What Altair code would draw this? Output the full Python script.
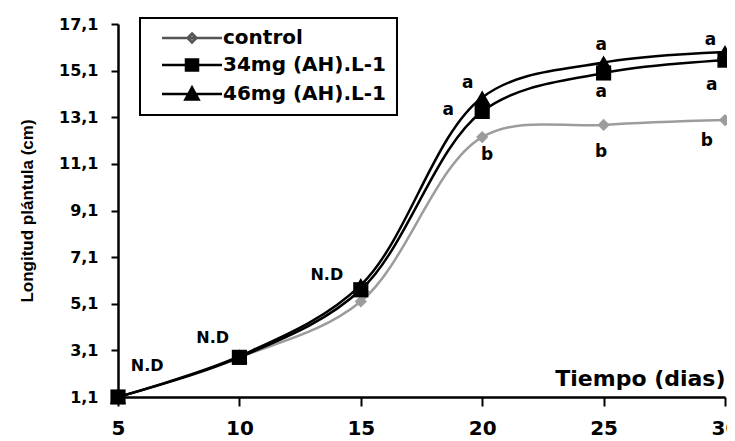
import altair as alt
import pandas as pd

# ---- data ----
days = [5, 10, 15, 20, 25, 30]
control = [1.1, 2.8, 5.2, 12.25, 12.77, 12.98]
mg34 = [1.1, 2.8, 5.7, 13.35, 15.0, 15.55]
mg46 = [1.1, 2.85, 5.9, 13.95, 15.45, 15.9]
series_names = ["control", "34mg (AH).L-1", "46mg (AH).L-1"]

y_ticks = [1.1, 3.1, 5.1, 7.1, 9.1, 11.1, 13.1, 15.1, 17.1]
x_ticks = [5, 10, 15, 20, 25, 30]

nd_x = [6.2, 8.9, 13.6]
nd_y = [2.45, 3.65, 6.35]
nd_text = ["N.D", "N.D", "N.D"]

let_x = [19.4, 18.6, 20.2, 24.9, 24.9, 24.9, 29.4, 29.45, 29.25]
let_y = [14.55, 13.4, 11.5, 16.2, 14.2, 11.6, 16.4, 14.5, 12.1]
let_text = ["a", "a", "b", "a", "a", "b", "a", "a", "b"]

rows = []
for name, vals in zip(series_names, [control, mg34, mg46]):
    for d, v in zip(days, vals):
        rows.append({"dia": d, "longitud": v, "serie": name})
df = pd.DataFrame(rows)
nd_df = pd.DataFrame({"dia": nd_x, "longitud": nd_y, "txt": nd_text})
let_df = pd.DataFrame({"dia": let_x, "longitud": let_y, "txt": let_text})

FONT = "DejaVu Sans"
GREY = "#9c9c9c"
BLACK = "#000000"

x_enc = alt.X(
    "dia:Q",
    scale=alt.Scale(domain=[5, 30], nice=False, zero=False),
    axis=alt.Axis(
        values=x_ticks, format="d", grid=False, labelFlush=False, labelOverlap=False,
        title="Tiempo (dias)", titleX=607, titleY=-12, titleAlign="right",
        titleBaseline="alphabetic", titleFont=FONT, titleFontSize=22,
        titleFontWeight="bold", titleColor=BLACK,
        labelFont=FONT, labelFontSize=20, labelFontWeight="bold", labelColor=BLACK,
        labelPadding=12, tickSize=9, tickWidth=2, tickColor=BLACK,
        domainWidth=2.5, domainColor=BLACK,
    ),
)
y_enc = alt.Y(
    "longitud:Q",
    scale=alt.Scale(domain=[1.1, 17.1], nice=False, zero=False),
    axis=alt.Axis(
        values=y_ticks, grid=False, labelOverlap=False,
        labelExpr="replace(format(datum.value, '.1f'), '.', ',')",
        title="Longitud plántula (cm)", titleFont="Liberation Sans", titleFontSize=17,
        titleFontWeight="bold", titleColor=BLACK, titleAngle=270,
        titleX=-91, titleY=186.5, titleAlign="center", titleBaseline="middle",
        labelFont=FONT, labelFontSize=16, labelFontWeight="bold", labelColor=BLACK,
        labelPadding=13, tickSize=7, tickWidth=2, tickColor=BLACK,
        domainWidth=2.5, domainColor=BLACK,
    ),
)

# colour scale for lines/markers: data-driven (sorted) domain
color_scale = alt.Scale(range=[BLACK, BLACK, GREY])

base = alt.Chart(df)

lines = base.mark_line(interpolate="catmull-rom", strokeWidth=2.5).encode(
    x=x_enc, y=y_enc,
    color=alt.Color("serie:N", scale=color_scale, legend=None),
)

marker_shapes = ["diamond", "square", "triangle-up"]
marker_sizes = [150, 230, 260]
marker_layers = []
for name, shp, sz in zip(series_names, marker_shapes, marker_sizes):
    marker_layers.append(
        base.transform_filter(alt.datum.serie == name)
        .mark_point(filled=True, opacity=1, shape=shp, size=sz)
        .encode(x=x_enc, y=y_enc,
                color=alt.Color("serie:N", scale=color_scale, legend=None))
    )

# legend: symbols are a line with a marker in the middle
legend_paths = [
    "M-5,0H5M0,-0.75L0.75,0L0,0.75L-0.75,0Z",
    "M-5,0H5M-1,-0.9H1V0.9H-1Z",
    "M-5,0H5M0,-1.1L1.1,0.9H-1.1Z",
]
leg = alt.Legend(
    title=None, orient="none", legendX=22, legendY=-6,
    labelFont=FONT, labelFontSize=20, labelFontWeight="bold", labelColor=BLACK,
    labelLimit=0, symbolOpacity=1, symbolStrokeWidth=2.5, symbolSize=144,
    padding=10, rowPadding=6, symbolOffset=32, labelOffset=21,
    strokeColor=BLACK, fillColor="white",
)
# this layer draws nothing on the plot (all rows filtered out); it only carries the legend
legend_layer = base.transform_filter("datum.dia < 0").mark_point(filled=True, size=144).encode(
    x=x_enc, y=y_enc,
    shape=alt.Shape("serie:N", scale=alt.Scale(domain=series_names, range=legend_paths), legend=leg),
    fill=alt.Fill("serie:N", scale=alt.Scale(domain=series_names, range=[GREY, BLACK, BLACK]), legend=leg),
    stroke=alt.Stroke("serie:N", scale=alt.Scale(domain=series_names, range=["#555555", BLACK, BLACK]), legend=leg),
)

nd_layer = alt.Chart(nd_df).mark_text(
    font=FONT, fontSize=16, fontWeight="bold", color=BLACK, align="center", baseline="middle"
).encode(x=x_enc, y=y_enc, text="txt:N")

let_layer = alt.Chart(let_df).mark_text(
    font=FONT, fontSize=17, fontWeight="bold", color=BLACK, align="center", baseline="middle"
).encode(x=x_enc, y=y_enc, text="txt:N")

chart = alt.layer(lines, *marker_layers, legend_layer, nd_layer, let_layer).properties(
    width=607, height=373,
    autosize=alt.AutoSizeParams(type="none"),
    padding={"left": 110, "top": 16, "right": 2, "bottom": 44},
    background="white",
).configure_view(strokeWidth=0).configure_legend(strokeWidth=2)

chart.save("out.html", embed_options={"renderer": "svg", "actions": False})
